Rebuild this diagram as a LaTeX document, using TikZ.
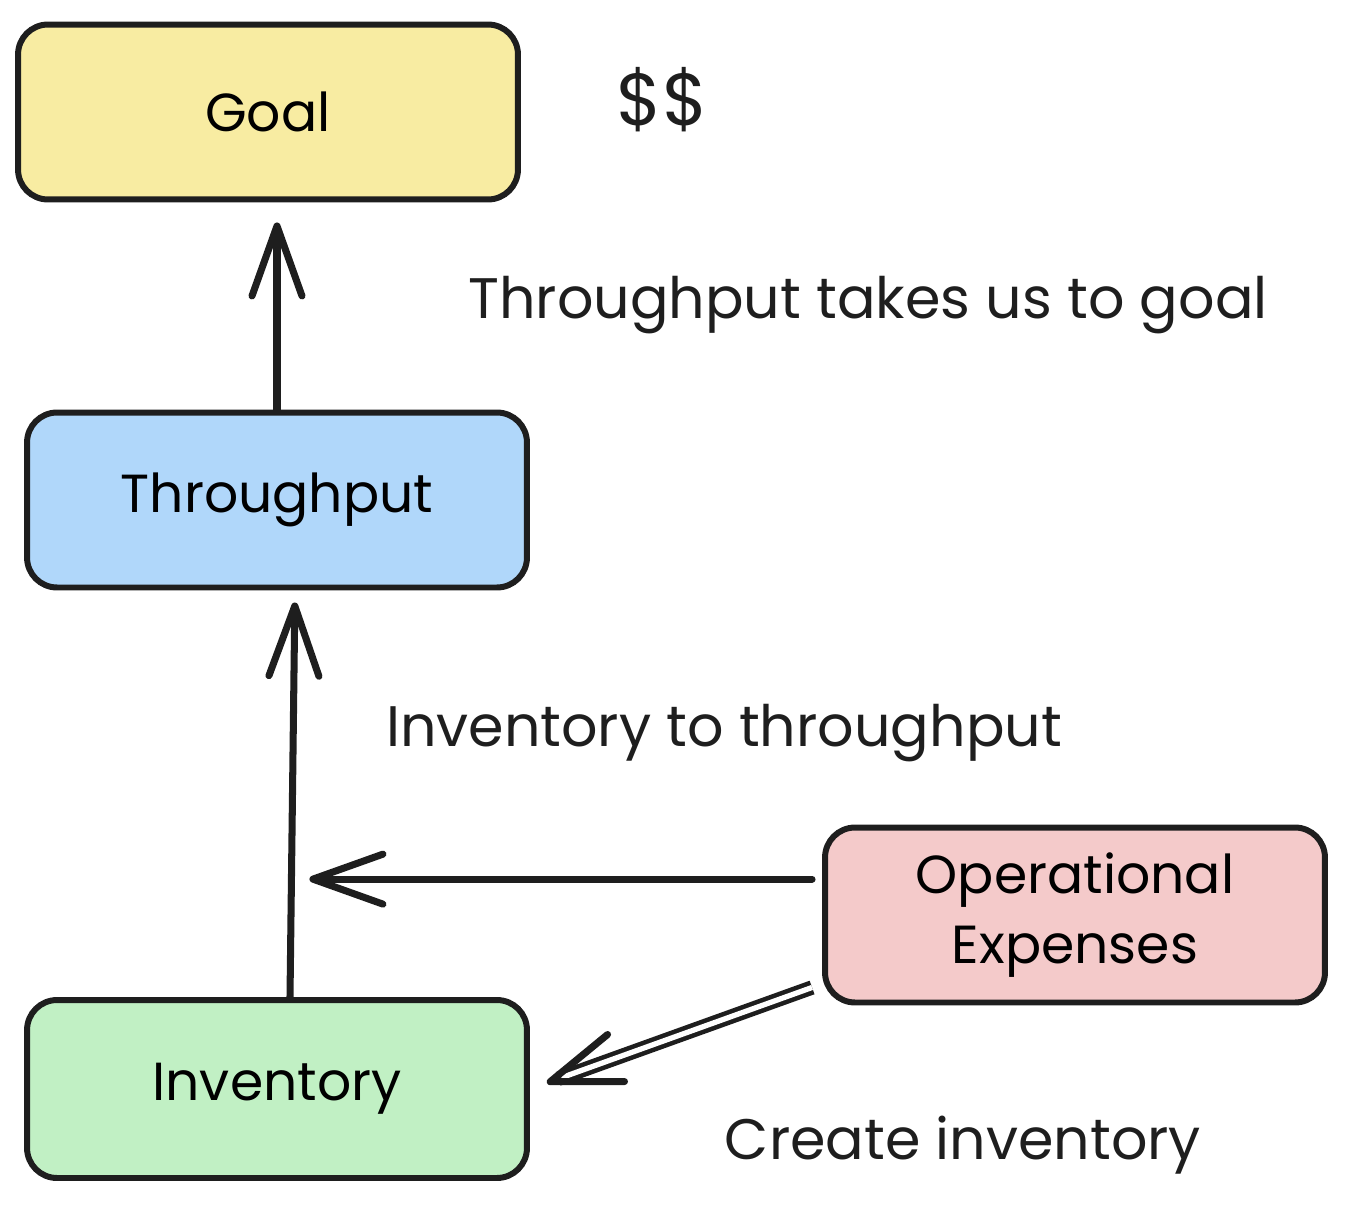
\documentclass[tikz,border=0pt]{standalone}
\usepackage{fontspec}
\setmainfont{Poppins}
\usetikzlibrary{arrows.meta,calc}

\definecolor{goalfill}{RGB}{248,236,162}
\definecolor{tputfill}{RGB}{176,215,250}
\definecolor{opexfill}{RGB}{244,202,202}
\definecolor{invfill}{RGB}{193,240,196}
\definecolor{ink}{RGB}{30,30,30}

\begin{document}
\begin{tikzpicture}[x=0.02cm, y=-0.02cm, >={Straight Barb[length=1.4cm, width=1.0cm, round]},
  box/.style={draw=ink, line width=3.4pt, rounded corners=0.6cm, minimum width=10cm,
    minimum height=3.5cm, align=center, font=\fontsize{30.5}{40}\selectfont},
  arr/.style={->, draw=ink, line width=4pt, line cap=round},
  lbl/.style={text=ink, font=\fontsize{32.5}{38}\selectfont}]
  \useasboundingbox (0,0) rectangle (1352,1220);

  % Boxes
  \node[box, fill=goalfill] (goal) at (268,112) {Goal};
  \node[box, fill=tputfill] (tput) at (277,500) {Throughput};
  \node[box, fill=invfill, minimum height=3.56cm] (inv) at (277,1089) {Inventory};
  \node[box, fill=opexfill] (opex) at (1075,915) {Operational\\Expenses};

  % Labels
  \node[lbl, font=\fontsize{42}{46}\selectfont] (money) at (662,100) {\$\$};
  \node[lbl] (lblgoal) at (868,305) {Throughput takes us to goal};
  \node[lbl] (lbltput) at (724,733) {Inventory to throughput};
  \node[lbl] (lblinv) at (963,1145) {Create inventory};

  % Throughput to goal
  \draw[arr, shorten >=0.4cm] (tput.north) -- (tput.north |- goal.south);

  % Inventory to throughput
  \draw[arr, shorten >=0.24cm] ([xshift=0.26cm]inv.north) -- ([xshift=0.36cm]tput.south)
    coordinate[pos=0.29] (mid);

  % Expenses into the flow
  \draw[arr, shorten <=0.2cm, shorten >=0.36cm] (opex.west |- mid) -- (mid);

  % Expenses create inventory (double stroke)
  \coordinate (dstart) at ([shift={(-10,-18)}]opex.south west);
  \draw[draw=ink, line width=2.6pt, double=white, double distance=3pt, shorten >=0.6cm]
    (dstart) -- (inv.east);
  \draw[arr, shorten >=0.36cm] ($(dstart)!0.9!(inv.east)$) -- (inv.east);
\end{tikzpicture}
\end{document}
